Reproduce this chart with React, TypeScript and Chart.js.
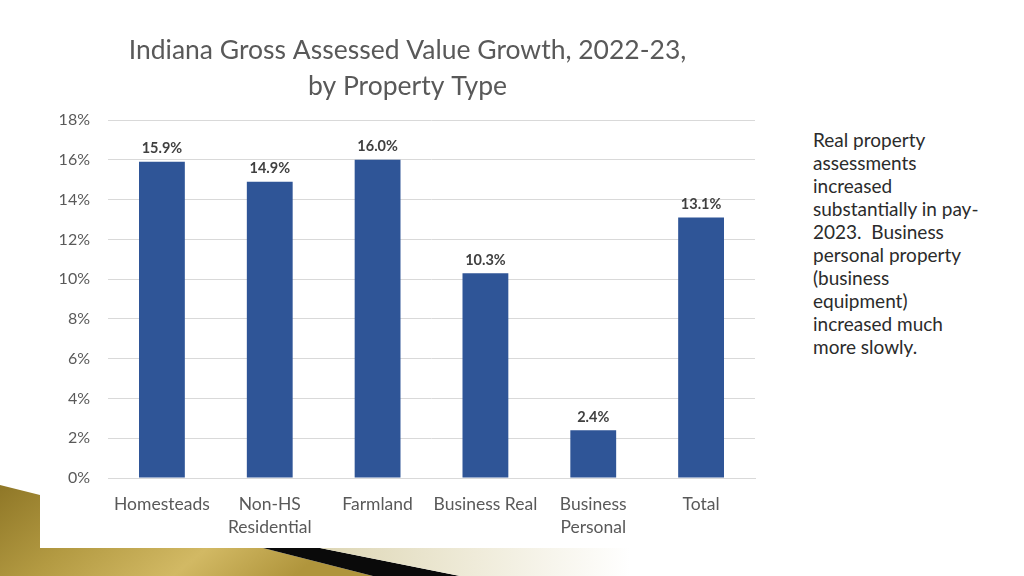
import React, { useEffect, useRef } from "react";
import { Chart, registerables } from "chart.js";

Chart.register(...registerables);

const categories: string[][] = [
  ["Homesteads"],
  ["Non-HS", "Residential"],
  ["Farmland"],
  ["Business Real"],
  ["Business", "Personal"],
  ["Total"],
];
const growthValues: number[] = [15.9, 14.9, 16.0, 10.3, 2.4, 13.1];
const yMin = 0;
const yMax = 18;
const yStep = 2;
const titleLines: string[] = [
  "Indiana Gross Assessed Value Growth, 2022-23,",
  "by Property Type",
];
const noteLines: string[] = [
  "Real property",
  "assessments",
  "increased",
  "substantially in pay-",
  "2023.  Business",
  "personal property",
  "(business",
  "equipment)",
  "increased much",
  "more slowly.",
];

const FONT = "Lato, 'Open Sans', 'DejaVu Sans', sans-serif";

const valueLabelPlugin = {
  id: "valueLabels",
  afterDatasetsDraw(chart: any) {
    const ctx = chart.ctx;
    ctx.save();
    ctx.font = `bold 14.5px ${FONT}`;
    ctx.fillStyle = "#404040";
    ctx.textAlign = "center";
    ctx.textBaseline = "bottom";
    chart.data.datasets.forEach((ds: any, i: number) => {
      const meta = chart.getDatasetMeta(i);
      meta.data.forEach((bar: any, j: number) => {
        const v = ds.data[j] as number;
        ctx.fillText(v.toFixed(1) + "%", bar.x, bar.y - 6);
      });
    });
    ctx.restore();
  },
};

function Decoration() {
  return (
    <svg
      width={1024}
      height={576}
      style={{ position: "absolute", left: 0, top: 0, pointerEvents: "none" }}
    >
      <defs>
        <linearGradient id="gold" x1="0" y1="0" x2="1" y2="0.3">
          <stop offset="0" stopColor="#8f7727" />
          <stop offset="0.35" stopColor="#b39a42" />
          <stop offset="0.7" stopColor="#d2b964" />
          <stop offset="1" stopColor="#b0953c" />
        </linearGradient>
        <linearGradient id="cream" x1="0" y1="0" x2="1" y2="0">
          <stop offset="0" stopColor="#ddd6b4" />
          <stop offset="0.5" stopColor="#efebd9" />
          <stop offset="1" stopColor="#ffffff" />
        </linearGradient>
      </defs>
      <polygon
        points="0,485 40,495 40,548 263,548 373,576 0,576"
        fill="url(#gold)"
      />
      <polygon points="263,548 320,548 460,576 373,576" fill="#0a0a0a" />
      <polygon points="320,548 630,548 630,576 460,576" fill="url(#cream)" />
    </svg>
  );
}

export default function App() {
  const canvasRef = useRef<HTMLCanvasElement | null>(null);

  useEffect(() => {
    if (!canvasRef.current) return;
    const chart = new Chart(canvasRef.current, {
      type: "bar",
      data: {
        labels: categories,
        datasets: [
          {
            data: growthValues,
            backgroundColor: "#2F5597",
            borderWidth: 0,
            barPercentage: 0.85,
            categoryPercentage: 0.5,
          },
        ],
      },
      options: {
        responsive: true,
        maintainAspectRatio: false,
        animation: false,
        layout: { padding: { left: 60, right: 15, top: 18, bottom: 0 } },
        plugins: {
          legend: { display: false },
          tooltip: { enabled: false },
          title: {
            display: true,
            text: titleLines,
            color: "#595959",
            font: { family: FONT, size: 26.5, weight: "normal", lineHeight: 1.36 },
            padding: { top: 14, bottom: 16 },
          },
        },
        scales: {
          x: {
            grid: { display: false },
            border: { display: true, color: "#d9d9d9" },
            ticks: {
              color: "#595959",
              font: { family: FONT, size: 17.5, lineHeight: 1.32 },
              padding: 7,
              maxRotation: 0,
              autoSkip: false,
            },
            afterFit: (s: any) => {
              s.height = 70;
            },
          },
          y: {
            min: yMin,
            max: yMax,
            grid: { color: "#d9d9d9", drawTicks: false },
            border: { display: false },
            ticks: {
              stepSize: yStep,
              color: "#595959",
              font: { family: FONT, size: 16 },
              padding: 18,
              callback: (v: any) => v + "%",
            },
            afterFit: (s: any) => {
              s.width = 48;
            },
          },
        },
      },
      plugins: [valueLabelPlugin],
    });
    return () => chart.destroy();
  }, []);

  return (
    <div
      style={{
        position: "fixed",
        left: 0,
        top: 0,
        width: 1024,
        height: 576,
        background: "#ffffff",
        overflow: "hidden",
      }}
    >
      <Decoration />
      <div
        style={{ position: "absolute", left: 0, top: 0, width: 770, height: 548 }}
      >
        <canvas ref={canvasRef} />
      </div>
      <div
        style={{
          position: "absolute",
          left: 813,
          top: 128,
          fontFamily: FONT,
          fontSize: 19,
          fontWeight: 400,
          lineHeight: "23px",
          color: "#2b2b2b",
          whiteSpace: "pre",
        }}
      >
        {noteLines.map((l, i) => (
          <div key={i}>{l}</div>
        ))}
      </div>
    </div>
  );
}
